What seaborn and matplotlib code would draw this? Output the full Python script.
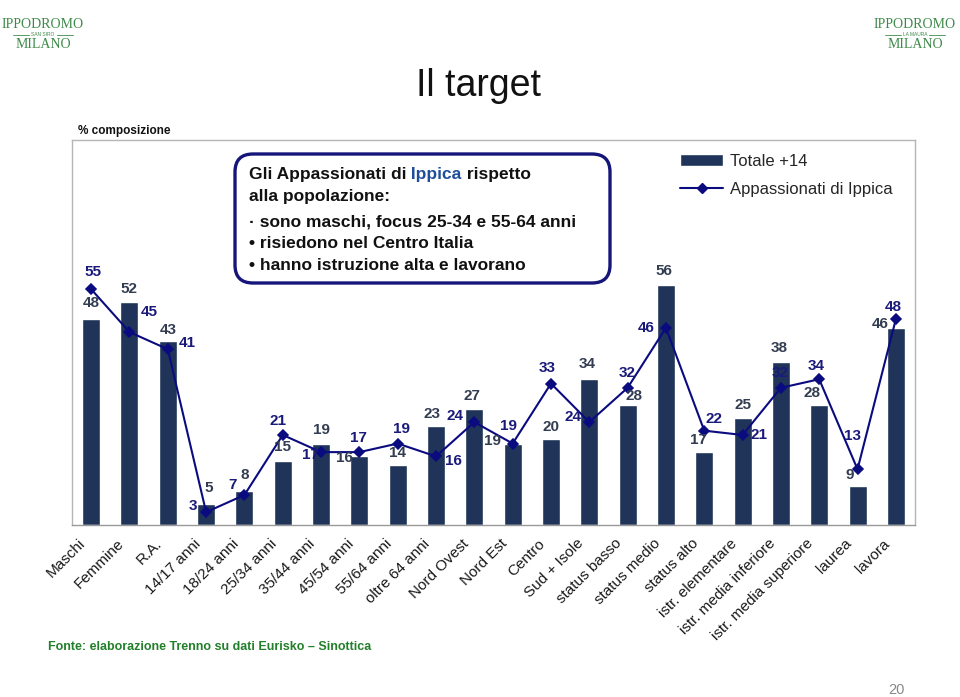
"""Il target: Totale +14 vs Appassionati di Ippica, % composizione."""

import matplotlib

matplotlib.use("Agg")
import matplotlib.pyplot as plt
import matplotlib.transforms as mtransforms
import numpy as np
import seaborn as sns
from matplotlib.lines import Line2D
from matplotlib.patches import FancyBboxPatch, Patch

categories = [
    "Maschi", "Femmine", "R.A.", "14/17 anni", "18/24 anni", "25/34 anni",
    "35/44 anni", "45/54 anni", "55/64 anni", "oltre 64 anni", "Nord Ovest",
    "Nord Est", "Centro", "Sud + Isole", "status basso", "status medio",
    "status alto", "istr. elementare", "istr. media inferiore",
    "istr. media superiore", "laurea", "lavora",
]
totale = [48, 52, 43, 5, 8, 15, 19, 16, 14, 23, 27, 19, 20, 34, 28, 56, 17, 25, 38, 28, 9, 46]
appassionati = [55, 45, 41, 3, 7, 21, 17, 17, 19, 16, 24, 19, 33, 24, 32, 46, 22, 21, 32, 34, 13, 48]

# label offsets in pixels (dx, dy) so the numbers don't collide
bar_label_offsets = [
    (0, 16), (0, 13), (0, 11), (3, 16), (0, 16), (0, 14), (0, 14), (-15, -2),
    (0, 12), (-4, 12), (-2, 13), (-20, 3), (0, 12), (-2, 15), (6, 9), (-2, 14),
    (-6, 12), (0, 13), (-2, 14), (-7, 12), (-8, 11), (-16, 4),
]
line_label_offsets = [
    (2, 17), (20, 20), (19, 6), (-13, 6), (-12, 10), (-5, 14), (-11, -3), (-1, 14),
    (4, 15), (17, -5), (-19, 6), (-4, 18), (-4, 16), (-16, 5), (0, 15), (-20, 0),
    (10, 12), (16, 0), (-1, 15), (-3, 13), (-5, 33), (-3, 12),
]

BAR_COLOR = "#1f3458"
LINE_COLOR = "#0b0b80"
BAR_TEXT = "#333d52"
LINE_TEXT = "#1a1a7a"
GREEN = "#3d8a4a"

sns.set_style("white")
plt.rcParams["font.family"] = ["Liberation Sans", "DejaVu Sans"]

fig = plt.figure(figsize=(9.6, 6.97), dpi=100)
ax = fig.add_axes([72 / 960, 1 - 525 / 697, (915 - 72) / 960, (525 - 140) / 697])

sns.barplot(x=categories, y=totale, color=BAR_COLOR, saturation=1, width=0.47, ax=ax)
sns.pointplot(x=categories, y=appassionati, color=LINE_COLOR, markers="D",
              markersize=5.5, linewidth=1.5, errorbar=None, ax=ax)

for i, (v, (dx, dy)) in enumerate(zip(totale, bar_label_offsets)):
    ax.annotate(str(v), xy=(i, v), xytext=(dx, dy), textcoords="offset pixels",
                ha="center", va="center", fontsize=11, fontweight="bold", color=BAR_TEXT)
for i, (v, (dx, dy)) in enumerate(zip(appassionati, line_label_offsets)):
    ax.annotate(str(v), xy=(i, v), xytext=(dx, dy), textcoords="offset pixels",
                ha="center", va="center", fontsize=11, fontweight="bold", color=LINE_TEXT)

ax.set_xlim(-0.5, len(categories) - 0.5)
ax.set_ylim(0, 89.8)
ax.set_yticks([])
ax.set_xlabel("")
ax.set_ylabel("")
ax.set_xticks(range(len(categories)))
ax.set_xticks(np.arange(-0.5, len(categories), 1), minor=True)
ax.tick_params(axis="x", which="major", length=0, pad=9)
ax.tick_params(axis="x", which="minor", length=5, color="#999999", direction="out", width=1)
ax.set_xticklabels(categories, rotation=45, ha="right", rotation_mode="anchor",
                   fontsize=11, color="#1a1a1a")
# nudge the slanted labels left, as on the slide
shift = mtransforms.ScaledTranslation(-0.13, 0.01, fig.dpi_scale_trans)
for tick in ax.xaxis.get_major_ticks():
    tick.label1.set_transform(tick.label1.get_transform() + shift)
for side, spine in ax.spines.items():
    spine.set_visible(True)
    spine.set_color("#b5b5b5" if side != "bottom" else "#999999")
    spine.set_linewidth(1)

fig.legend(
    handles=[
        Patch(facecolor=BAR_COLOR, label="Totale +14"),
        Line2D([], [], color=LINE_COLOR, marker="D", markersize=5, lw=1.5,
               label="Appassionati di Ippica"),
    ],
    loc="upper left", bbox_to_anchor=(680 / 960, 1 - 154 / 697), frameon=False,
    fontsize=12, handlelength=2.6, handleheight=0.7, handletextpad=0.4,
    labelspacing=0.8, borderaxespad=0, borderpad=0,
)

# overlay in pixel units for the slide decorations
ov = fig.add_axes([0, 0, 1, 1])
ov.set_xlim(0, 960)
ov.set_ylim(697, 0)
ov.axis("off")
ov.patch.set_visible(False)

ov.text(478, 86, "Il target", fontsize=27, ha="center", va="center", color="#111111")
ov.text(78, 131, "% composizione", fontsize=8.5, fontweight="bold", va="center", color="#111111")

box = FancyBboxPatch((235, 154), 375, 129, boxstyle="round,pad=0,rounding_size=18",
                     facecolor="white", edgecolor="#15157a", linewidth=2.4)
ov.add_patch(box)
bold = dict(fontsize=12.5, fontweight="bold", va="center", color="#111111")
t1 = ov.text(249, 174, "Gli Appassionati di", **bold)
t2 = ov.annotate(" Ippica", xy=(1, 0), xycoords=t1, va="bottom", fontsize=12.5,
                 fontweight="bold", color="#1f4e9a")
ov.annotate(" rispetto", xy=(1, 0), xycoords=t2, va="bottom", fontsize=12.5,
            fontweight="bold", color="#111111")
ov.text(249, 197, "alla popolazione:", **bold)
ov.text(249, 222, "· sono maschi, focus 25-34 e 55-64 anni", **bold)
ov.text(249, 243, "• risiedono nel Centro Italia", **bold)
ov.text(249, 265, "• hanno istruzione alta e lavorano", **bold)

logo = dict(fontsize=10, color=GREEN, ha="center", va="center", family="Liberation Serif")
for cx, mid in [(43, "SAN SIRO"), (915, "LA MAURA")]:
    ov.text(cx, 25, "IPPODROMO", **logo)
    ov.text(cx, 35, mid, fontsize=3.5, color=GREEN, ha="center", va="center")
    ov.plot([cx - 30, cx - 14], [35, 35], color=GREEN, lw=0.6)
    ov.plot([cx + 14, cx + 30], [35, 35], color=GREEN, lw=0.6)
    ov.text(cx, 45, "MILANO", **logo)

ov.text(48, 647, "Fonte: elaborazione Trenno su dati Eurisko – Sinottica", fontsize=9,
        fontweight="bold", color="#22802a", va="center")
ov.text(896, 690, "20", fontsize=10.5, color="#888888", ha="center", va="center")

fig.savefig("out.png", dpi=100)
